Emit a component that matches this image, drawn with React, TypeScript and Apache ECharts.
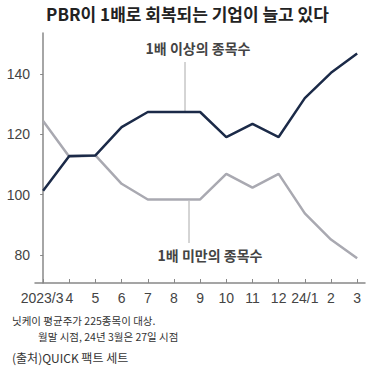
import React, { useEffect, useRef } from "react";
import * as echarts from "echarts";

const categories = ["2023/3", "4", "5", "6", "7", "8", "9", "10", "11", "12", "24/1", "2", "3"];
const aboveOne = [101.3, 112.8, 113.0, 122.4, 127.4, 127.4, 127.4, 119.1, 123.5, 119.1, 132.0, 140.4, 146.8];
const belowOne = [124.4, 112.6, 113.0, 103.6, 98.4, 98.4, 98.4, 106.9, 102.3, 106.9, 93.8, 85.1, 78.9];
const yTicks = [80, 100, 120, 140];

const narrow = "'Liberation Sans Narrow', 'Liberation Sans', sans-serif";
const kor = "'Noto Sans CJK KR', 'Noto Sans', sans-serif";

export default function App() {
  const ref = useRef<HTMLDivElement>(null);
  useEffect(() => {
    if (!ref.current) return;
    const chart = echarts.init(ref.current, null, { renderer: "svg" });
    const idx = categories.map((_, i) => i);
    chart.setOption({
      animation: false,
      backgroundColor: "#ffffff",
      grid: { left: 35, right: 10, top: 33, bottom: 89 },
      xAxis: {
        type: "value",
        min: -0.31,
        max: 12.3,
        splitLine: { show: false },
        axisLine: { show: true, lineStyle: { color: "#888", width: 1.5 } },
        axisTick: { show: true, inside: true, length: 4, customValues: idx, lineStyle: { color: "#888" } },
        axisLabel: {
          customValues: idx,
          formatter: (v: number) => {
            const i = Math.round(v);
            return i === 0 ? "{s|" + categories[i] + "}" : categories[i] ?? "";
          },
          rich: { s: { fontFamily: narrow, fontSize: 14, color: "#444", padding: [0, 2, 0, 0] } },
          color: "#444",
          fontFamily: narrow,
          fontSize: 14,
          margin: 8,
          hideOverlap: false,
          showMinLabel: true,
          showMaxLabel: true,
        },
      },
      yAxis: {
        type: "value",
        min: 70.7,
        max: 153.6,
        splitLine: { show: false },
        axisLine: { show: true, lineStyle: { color: "#888", width: 1.5 } },
        axisTick: { show: true, length: 3, customValues: yTicks, lineStyle: { color: "#888" } },
        axisLabel: {
          customValues: yTicks,
          color: "#444",
          fontFamily: narrow,
          fontSize: 14,
          margin: 5,
        },
      },
      series: [
        {
          type: "line",
          data: belowOne.map((v, i) => [i, v]),
          symbol: "none",
          lineStyle: { color: "#a9a9b1", width: 2.5 },
          z: 2,
        },
        {
          type: "line",
          data: aboveOne.map((v, i) => [i, v]),
          symbol: "none",
          lineStyle: { color: "#1b2a48", width: 2.5 },
          z: 3,
        },
      ],
      graphic: [
        {
          type: "text",
          left: "center",
          top: 5,
          style: { text: "PBR이 1배로 회복되는 기업이 늘고 있다", fontFamily: kor, fontSize: 17, fontWeight: "bold", fill: "#222" },
        },
        {
          type: "line",
          shape: { x1: 185, y1: 62, x2: 185, y2: 112 },
          style: { stroke: "#aaa", lineWidth: 1 },
        },
        {
          type: "text",
          x: 198,
          y: 48,
          style: { text: "1배 이상의 종목수", fontFamily: kor, fontSize: 14, fontWeight: "bold", fill: "#444", align: "center", verticalAlign: "middle" },
        },
        {
          type: "line",
          shape: { x1: 189, y1: 201, x2: 189, y2: 243 },
          style: { stroke: "#aaa", lineWidth: 1 },
        },
        {
          type: "text",
          x: 210,
          y: 255,
          style: { text: "1배 미만의 종목수", fontFamily: kor, fontSize: 14, fontWeight: "bold", fill: "#444", align: "center", verticalAlign: "middle" },
        },
        {
          type: "text",
          x: 12,
          y: 320,
          style: { text: "닛케이 평균주가 225종목이 대상.", fontFamily: kor, fontSize: 10.5, fill: "#333", verticalAlign: "middle" },
        },
        {
          type: "text",
          x: 38,
          y: 336,
          style: { text: "월말 시점, 24년 3월은 27일 시점", fontFamily: kor, fontSize: 10.5, fill: "#333", verticalAlign: "middle" },
        },
        {
          type: "text",
          x: 12,
          y: 357,
          style: { text: "(출처)QUICK 팩트 세트", fontFamily: kor, fontSize: 12, fill: "#333", verticalAlign: "middle" },
        },
      ],
    });
    return () => chart.dispose();
  }, []);
  return <div ref={ref} style={{ width: 375, height: 372, position: "absolute", left: 0, top: 0 }} />;
}
